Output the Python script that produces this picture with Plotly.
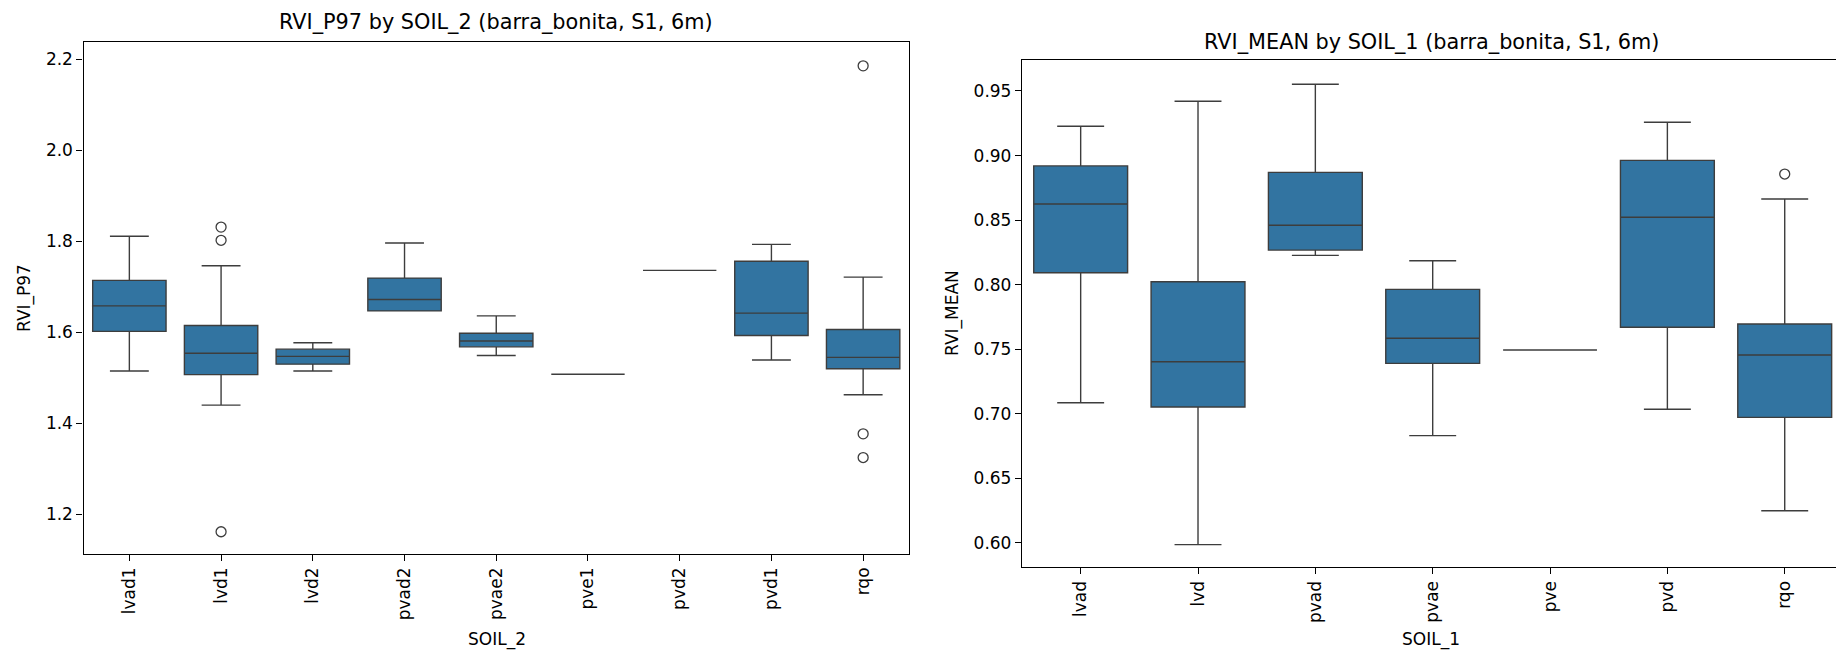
import plotly.graph_objects as go

# RVI_P97 summary statistics by SOIL_2
soil2 = ["lvad1", "lvd1", "lvd2", "pvad2", "pvae2", "pve1", "pvd2", "pvd1", "rqo"]
p97_low = [1.515, 1.440, 1.515, 1.647, 1.549, 1.508, 1.736, 1.539, 1.463]
p97_q1 = [1.602, 1.507, 1.530, 1.647, 1.568, 1.508, 1.736, 1.593, 1.520]
p97_med = [1.658, 1.554, 1.547, 1.672, 1.581, 1.508, 1.736, 1.642, 1.545]
p97_q3 = [1.714, 1.615, 1.563, 1.719, 1.598, 1.508, 1.736, 1.756, 1.606]
p97_high = [1.811, 1.746, 1.577, 1.796, 1.636, 1.508, 1.736, 1.793, 1.721]
p97_out_cat = ["lvd1", "lvd1", "lvd1", "rqo", "rqo", "rqo"]
p97_out_val = [1.831, 1.802, 1.162, 2.185, 1.377, 1.325]

# RVI_MEAN summary statistics by SOIL_1
soil1 = ["lvad", "lvd", "pvad", "pvae", "pve", "pvd", "rqo"]
mean_low = [0.7086, 0.5987, 0.8227, 0.6831, 0.7494, 0.7035, 0.6250]
mean_q1 = [0.8093, 0.7053, 0.8268, 0.7391, 0.7494, 0.7670, 0.6973]
mean_med = [0.8625, 0.7403, 0.8460, 0.7585, 0.7494, 0.8522, 0.7456]
mean_q3 = [0.8920, 0.8023, 0.8870, 0.7964, 0.7494, 0.8963, 0.7696]
mean_high = [0.9227, 0.9420, 0.9552, 0.8186, 0.7494, 0.9258, 0.8664]
mean_out_cat = ["rqo"]
mean_out_val = [0.8857]

W, H = 1836, 652
BOX_FILL = "#3274a1"
EDGE = "#3d3d3d"
FONT = "DejaVu Sans"


def px_x(p):
    return p / W


def px_y(p):
    return 1 - p / H


fig = go.Figure()

fig.add_trace(go.Box(
    x=soil2, q1=p97_q1, median=p97_med, q3=p97_q3,
    lowerfence=p97_low, upperfence=p97_high,
    width=0.8, whiskerwidth=0.53, boxpoints=False,
    fillcolor=BOX_FILL, line=dict(color=EDGE, width=1.4),
    xaxis="x", yaxis="y", hoverinfo="skip",
))
fig.add_trace(go.Scatter(
    x=p97_out_cat, y=p97_out_val, mode="markers",
    marker=dict(symbol="circle-open", size=10, color=EDGE, line=dict(width=1.3, color=EDGE)),
    xaxis="x", yaxis="y", hoverinfo="skip",
))

fig.add_trace(go.Box(
    x=soil1, q1=mean_q1, median=mean_med, q3=mean_q3,
    lowerfence=mean_low, upperfence=mean_high,
    width=0.8, whiskerwidth=0.5, boxpoints=False,
    fillcolor=BOX_FILL, line=dict(color=EDGE, width=1.4),
    xaxis="x2", yaxis="y2", hoverinfo="skip",
))
fig.add_trace(go.Scatter(
    x=mean_out_cat, y=mean_out_val, mode="markers",
    marker=dict(symbol="circle-open", size=10, color=EDGE, line=dict(width=1.3, color=EDGE)),
    xaxis="x2", yaxis="y2", hoverinfo="skip",
))

tick_font = dict(family=FONT, size=17, color="#000000")
axis_common = dict(
    showgrid=False, zeroline=False, showline=True, linecolor="#000000", linewidth=1.3,
    ticks="outside", ticklen=6, tickwidth=1.3, tickcolor="#000000", tickfont=tick_font,
)

fig.update_layout(
    width=W, height=H,
    margin=dict(l=0, r=0, t=0, b=0),
    paper_bgcolor="white", plot_bgcolor="white",
    showlegend=False,
    xaxis=dict(
        domain=[px_x(83.5), px_x(909)], anchor="y", type="category",
        categoryorder="array", categoryarray=soil2, range=[-0.5, 8.5],
        tickangle=-90, mirror=True, **axis_common,
    ),
    yaxis=dict(
        domain=[px_y(553.5), px_y(41.7)], anchor="x",
        range=[1.1143, 2.238], tick0=1.2, dtick=0.2, tickformat=".1f",
        mirror=True, **axis_common,
    ),
    xaxis2=dict(
        domain=[px_x(1022), 1.0], anchor="y2", type="category",
        categoryorder="array", categoryarray=soil1, range=[-0.5, 6.437],
        tickangle=-90, mirror=True, **axis_common,
    ),
    yaxis2=dict(
        domain=[px_y(567), px_y(60)], anchor="x2",
        range=[0.5814, 0.974], tick0=0.6, dtick=0.05, tickformat=".2f",
        mirror=False, **axis_common,
    ),
)

label_font = dict(family=FONT, size=17, color="#000000")
title_font = dict(family=FONT, size=20.8, color="#000000")

annotations = [
    dict(text="RVI_P97 by SOIL_2 (barra_bonita, S1, 6m)", x=px_x(496), y=px_y(22),
         font=title_font),
    dict(text="RVI_MEAN by SOIL_1 (barra_bonita, S1, 6m)", x=px_x(1431), y=px_y(42),
         font=title_font),
    dict(text="SOIL_2", x=px_x(497), y=px_y(639), font=label_font),
    dict(text="SOIL_1", x=px_x(1431), y=px_y(639), font=label_font),
    dict(text="RVI_P97", x=px_x(24), y=px_y(298), textangle=-90, font=label_font),
    dict(text="RVI_MEAN", x=px_x(952), y=px_y(313), textangle=-90, font=label_font),
]
for a in annotations:
    a.update(xref="paper", yref="paper", showarrow=False, xanchor="center", yanchor="middle")
fig.update_layout(annotations=annotations)

fig.write_html("out.html")
